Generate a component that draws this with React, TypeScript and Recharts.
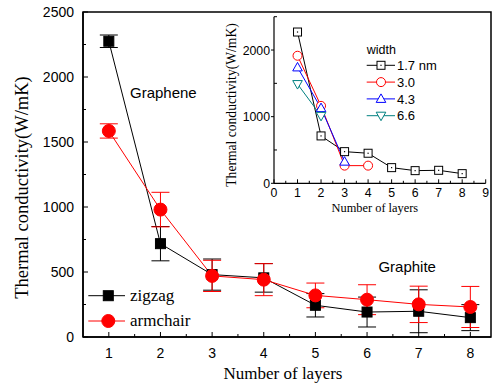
import React from 'react';
import {
  ComposedChart,
  LineChart,
  Line,
  XAxis,
  YAxis,
  ErrorBar,
  ReferenceArea,
  ReferenceDot,
  Label,
} from 'recharts';

// ---------- main chart data ----------
const layers = [1, 2, 3, 4, 5, 6, 7, 8];
const zigzag = [2275, 718, 480, 455, 244, 192, 198, 149];
const zigzagErr = [48, 132, 120, 110, 90, 115, 165, 100];
const armchair = [1585, 980, 470, 441, 320, 287, 251, 231];
const armchairErr = [55, 133, 120, 123, 95, 115, 140, 158];
const mainSeriesNames = ['zigzag', 'armchair'];

const mainXTicks = [1, 1.5, 2, 2.5, 3, 3.5, 4, 4.5, 5, 5.5, 6, 6.5, 7, 7.5, 8];
const mainYTicks = [0, 250, 500, 750, 1000, 1250, 1500, 1750, 2000, 2250, 2500];
const mainYLabels = [0, 500, 1000, 1500, 2000, 2500];

// ---------- inset data ----------
const insetLayers = [1, 2, 3, 4, 5, 6, 7, 8];
const w17 = [2270, 711, 475, 451, 235, 190, 195, 145];
const w30 = [1914, 1162, 265, 265];
const w43 = [1739, 1128, 325];
const w66 = [1489, 1012];
const widthNames = ['1.7 nm', '3.0', '4.3', '6.6'];

const insetXTicks = [0, 0.5, 1, 1.5, 2, 2.5, 3, 3.5, 4, 4.5, 5, 5.5, 6, 6.5, 7, 7.5, 8, 8.5, 9];
const insetYTicks = [0, 500, 1000, 1500, 2000, 2500];
const insetYLabels = [0, 1000, 2000];

const mainData = layers.map((l, i) => ({
  layers: l,
  zigzag: zigzag[i],
  zigzagErr: zigzagErr[i],
  armchair: armchair[i],
  armchairErr: armchairErr[i],
}));

const insetData = insetLayers.map((l, i) => ({
  layer: l,
  w17: w17[i],
  w30: w30[i],
  w43: w43[i],
  w66: w66[i],
}));

const SANS = '"Liberation Sans", Arial, sans-serif';
const SERIF = '"Liberation Serif", "Times New Roman", serif';
const RED = '#ff0000';
const BLUE = '#0000ff';
const TEAL = '#008080';

// ---------- tick renderers ----------
const MainXTick = (props: any) => {
  const { x, y, payload } = props;
  const v = payload.value;
  const major = Number.isInteger(v);
  return (
    <g>
      <line x1={x} x2={x} y1={y} y2={y - (major ? 5 : 3)} stroke="#000" strokeWidth={1} />
      {major && (
        <text x={x} y={y + 21} textAnchor="middle" fontFamily={SANS} fontSize={14} fill="#000">
          {v}
        </text>
      )}
    </g>
  );
};

const MainYTick = (props: any) => {
  const { x, y, payload } = props;
  const v = payload.value;
  const major = mainYLabels.includes(v);
  return (
    <g>
      <line x1={x} x2={x + (major ? 5 : 3)} y1={y} y2={y} stroke="#000" strokeWidth={1} />
      {major && (
        <text x={x - 9} y={y + 5} textAnchor="end" fontFamily={SANS} fontSize={14} fill="#000">
          {v}
        </text>
      )}
    </g>
  );
};

const InsetXTick = (props: any) => {
  const { x, y, payload } = props;
  const v = payload.value;
  const major = Number.isInteger(v);
  return (
    <g>
      <line x1={x} x2={x} y1={y} y2={y - (major ? 4 : 2.5)} stroke="#000" strokeWidth={1} />
      {major && (
        <text x={x} y={y + 14} textAnchor="middle" fontFamily={SANS} fontSize={12.3} fill="#000">
          {v}
        </text>
      )}
    </g>
  );
};

const InsetYTick = (props: any) => {
  const { x, y, payload } = props;
  const v = payload.value;
  const major = insetYLabels.includes(v);
  return (
    <g>
      {major ? (
        <line x1={x - 3} x2={x} y1={y} y2={y} stroke="#000" strokeWidth={1} />
      ) : (
        <line x1={x} x2={x + 3} y1={y} y2={y} stroke="#000" strokeWidth={1} />
      )}
      {major && (
        <text x={x - 4} y={y + 4.5} textAnchor="end" fontFamily={SANS} fontSize={12.3} fill="#000">
          {v}
        </text>
      )}
    </g>
  );
};

// ---------- axis labels ----------
const MainXLabel = (props: any) => {
  const vb = props.viewBox;
  const cx = vb.x + vb.width / 2 - 4;
  return (
    <text x={cx} y={vb.y + 42} textAnchor="middle" fontFamily={SERIF} fontSize={17} fill="#000">
      Number of layers
    </text>
  );
};

const MainYLabel = (props: any) => {
  const vb = props.viewBox;
  const cx = vb.x + 22;
  const cy = vb.y + vb.height / 2 + 13;
  return (
    <text
      x={cx}
      y={cy}
      transform={`rotate(-90 ${cx} ${cy})`}
      textAnchor="middle"
      dominantBaseline="central"
      fontFamily={SERIF}
      fontSize={18.5}
      fill="#000"
    >
      Thermal conductivity(W/mK)
    </text>
  );
};

const InsetXLabel = (props: any) => {
  const vb = props.viewBox;
  const cx = vb.x + vb.width / 2 - 5;
  return (
    <text x={cx} y={vb.y + 28.5} textAnchor="middle" fontFamily={SERIF} fontSize={12.4} fill="#000">
      Number of layers
    </text>
  );
};

const InsetYLabel = (props: any) => {
  const vb = props.viewBox;
  const cx = vb.x + 31;
  const cy = vb.y + vb.height / 2 + 5;
  return (
    <text
      x={cx}
      y={cy}
      transform={`rotate(-90 ${cx} ${cy})`}
      textAnchor="middle"
      dominantBaseline="central"
      fontFamily={SERIF}
      fontSize={13.6}
      fill="#000"
    >
      Thermal conductivity(W/mK)
    </text>
  );
};

// ---------- marker shapes ----------
const FilledSquare = ({ cx, cy }: any) => (
  <rect x={cx - 5} y={cy - 5} width={10} height={10} fill="#000" stroke="#000" />
);
const FilledCircle = ({ cx, cy }: any) => <circle cx={cx} cy={cy} r={6.5} fill={RED} stroke={RED} />;

const OpenSquare = ({ cx, cy }: any) => (
  <g>
    <rect x={cx - 4} y={cy - 4} width={8} height={8} fill="#fff" stroke="#000" strokeWidth={1} />
    <rect x={cx - 0.6} y={cy - 0.6} width={1.2} height={1.2} fill="#000" />
  </g>
);
const OpenCircle = ({ cx, cy }: any) => (
  <circle cx={cx} cy={cy} r={4.5} fill="#fff" stroke={RED} strokeWidth={1} />
);
const OpenTriUp = ({ cx, cy }: any) => (
  <polygon
    points={`${cx},${cy - 5} ${cx - 4.8},${cy + 3.5} ${cx + 4.8},${cy + 3.5}`}
    fill="#fff"
    stroke={BLUE}
    strokeWidth={1}
  />
);
const OpenTriDown = ({ cx, cy }: any) => (
  <polygon
    points={`${cx},${cy + 5} ${cx - 4.8},${cy - 3.5} ${cx + 4.8},${cy - 3.5}`}
    fill="#fff"
    stroke={TEAL}
    strokeWidth={1}
  />
);

const dotFn = (Shape: any) => (p: any) => {
  if (p.cx == null || p.cy == null || p.value == null) return <g key={p.index} />;
  return <Shape key={p.index} cx={p.cx} cy={p.cy} />;
};

// ---------- legends (drawn as separate overlays) ----------
const mainLegendStyles = [
  { color: '#000', Shape: FilledSquare },
  { color: RED, Shape: FilledCircle },
];

const MainLegend = () => (
  <svg width={120} height={52} style={{ display: 'block' }}>
    {mainSeriesNames.map((name, i) => {
      const st = mainLegendStyles[i];
      const cy = 11.7 + i * 25.3;
      return (
        <g key={name}>
          <line x1={4.3} x2={41} y1={cy} y2={cy} stroke={st.color} strokeWidth={1} />
          <st.Shape cx={24.3} cy={cy} />
          <text x={46} y={cy + 5} fontFamily={SERIF} fontSize={17} fill="#000">
            {name}
          </text>
        </g>
      );
    })}
  </svg>
);

const insetLegendStyles = [
  { color: '#000', Shape: OpenSquare },
  { color: RED, Shape: OpenCircle },
  { color: BLUE, Shape: OpenTriUp },
  { color: TEAL, Shape: OpenTriDown },
];

const InsetLegend = () => (
  <svg width={120} height={90} style={{ display: 'block' }}>
    <text x={6.7} y={15.8} fontFamily={SANS} fontSize={12.5} fill="#000">
      width
    </text>
    {widthNames.map((name, i) => {
      const st = insetLegendStyles[i];
      const cy = 27.3 + i * 16.8;
      return (
        <g key={name}>
          <line x1={6.7} x2={35} y1={cy} y2={cy} stroke={st.color} strokeWidth={1} />
          <st.Shape cx={21} cy={cy} />
          <text x={37} y={cy + 4.6} fontFamily={SANS} fontSize={13} fill="#000">
            {name}
          </text>
        </g>
      );
    })}
  </svg>
);

export default function App() {
  return (
    <div style={{ position: 'absolute', left: 0, top: 0, width: 496, height: 387, background: '#fff' }}>
      <div style={{ position: 'absolute', left: 0, top: 0 }}>
        <ComposedChart width={496} height={387} data={mainData} margin={{ top: 12, right: 5, left: 0, bottom: 0 }}>
          <XAxis
            dataKey="layers"
            type="number"
            domain={[0.5, 8.4]}
            ticks={mainXTicks}
            interval={0}
            tickSize={0}
            tickMargin={0}
            tickLine={false}
            tick={(p: any) => <MainXTick {...p} />}
            height={50}
            axisLine={{ stroke: '#000', strokeWidth: 1.5 }}
            allowDataOverflow
          >
            <Label content={MainXLabel} />
          </XAxis>
          <YAxis
            type="number"
            domain={[0, 2500]}
            ticks={mainYTicks}
            interval={0}
            tickSize={0}
            tickMargin={0}
            tickLine={false}
            tick={(p: any) => <MainYTick {...p} />}
            width={83}
            axisLine={{ stroke: '#000', strokeWidth: 1.5 }}
            allowDataOverflow
          >
            <Label content={MainYLabel} />
          </YAxis>
          <ReferenceArea
            x1={0.5}
            x2={8.4}
            y1={0}
            y2={2500}
            fill="none"
            stroke="#000"
            strokeWidth={1.5}
            ifOverflow="visible"
          />
          <ReferenceDot
            x={1.41}
            y={1882}
            r={0}
            fill="none"
            stroke="none"
            label={{ value: 'Graphene', position: 'right', offset: 0, fill: '#000', fontSize: 15, fontFamily: SANS }}
          />
          <ReferenceDot
            x={6.22}
            y={541}
            r={0}
            fill="none"
            stroke="none"
            label={{ value: 'Graphite', position: 'right', offset: 0, fill: '#000', fontSize: 15, fontFamily: SANS }}
          />
          <Line
            dataKey="zigzag"
            name={mainSeriesNames[0]}
            stroke="#000"
            strokeWidth={1}
            dot={dotFn(FilledSquare)}
            activeDot={false}
            isAnimationActive={false}
          >
            <ErrorBar dataKey="zigzagErr" width={9} stroke="#000" strokeWidth={1} direction="y" />
          </Line>
          <Line
            dataKey="armchair"
            name={mainSeriesNames[1]}
            stroke={RED}
            strokeWidth={1}
            dot={dotFn(FilledCircle)}
            activeDot={false}
            isAnimationActive={false}
          >
            <ErrorBar dataKey="armchairErr" width={9} stroke={RED} strokeWidth={1} direction="y" />
          </Line>
        </ComposedChart>
      </div>
      <div style={{ position: 'absolute', left: 84, top: 284 }}>
        <MainLegend />
      </div>
      <div style={{ position: 'absolute', left: 200, top: 0 }}>
        <LineChart width={296} height={230} data={insetData} margin={{ top: 16.7, right: 10.3, left: 0, bottom: 0 }}>
          <XAxis
            dataKey="layer"
            type="number"
            domain={[0, 9]}
            ticks={insetXTicks}
            interval={0}
            tickSize={0}
            tickMargin={0}
            tickLine={false}
            tick={(p: any) => <InsetXTick {...p} />}
            height={46.7}
            axisLine={{ stroke: '#000', strokeWidth: 1.2 }}
            allowDataOverflow
          >
            <Label content={InsetXLabel} />
          </XAxis>
          <YAxis
            type="number"
            domain={[0, 2500]}
            ticks={insetYTicks}
            interval={0}
            tickSize={0}
            tickMargin={0}
            tickLine={false}
            tick={(p: any) => <InsetYTick {...p} />}
            width={74}
            axisLine={{ stroke: '#000', strokeWidth: 1.2 }}
            allowDataOverflow
          >
            <Label content={InsetYLabel} />
          </YAxis>
          <Line dataKey="w17" name={widthNames[0]} stroke="#000" strokeWidth={1} dot={dotFn(OpenSquare)} activeDot={false} isAnimationActive={false} />
          <Line dataKey="w30" name={widthNames[1]} stroke={RED} strokeWidth={1} dot={dotFn(OpenCircle)} activeDot={false} isAnimationActive={false} />
          <Line dataKey="w43" name={widthNames[2]} stroke={BLUE} strokeWidth={1} dot={dotFn(OpenTriUp)} activeDot={false} isAnimationActive={false} />
          <Line dataKey="w66" name={widthNames[3]} stroke={TEAL} strokeWidth={1} dot={dotFn(OpenTriDown)} activeDot={false} isAnimationActive={false} />
        </LineChart>
      </div>
      <div style={{ position: 'absolute', left: 360, top: 38 }}>
        <InsetLegend />
      </div>
    </div>
  );
}
